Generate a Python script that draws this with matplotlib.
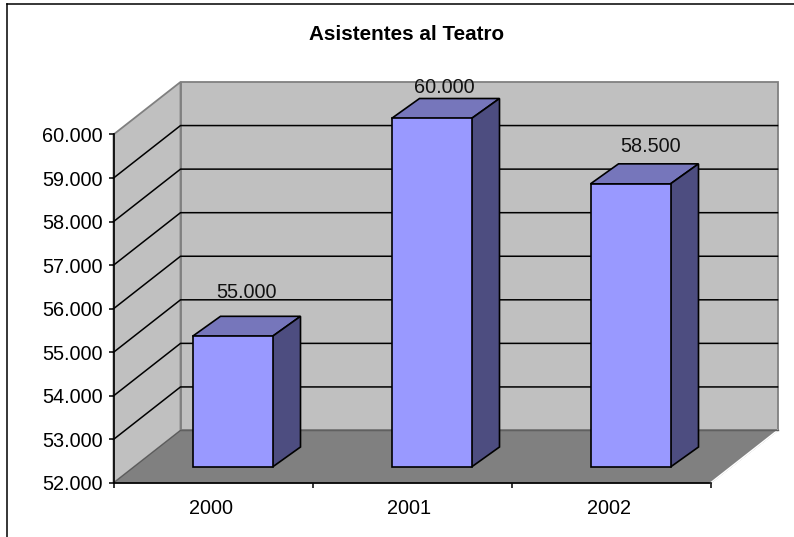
import matplotlib
matplotlib.use('Agg')
import matplotlib.pyplot as plt
from matplotlib.lines import Line2D
from matplotlib.patches import Polygon
from matplotlib.ticker import FixedLocator

years = ['2000', '2001', '2002']
asistentes = [55000, 60000, 58500]
y_ticks = [52000, 53000, 54000, 55000, 56000, 57000, 58000, 59000, 60000]
title = 'Asistentes al Teatro'

W, H = 794, 537
plt.rcParams['font.family'] = ['Liberation Sans', 'DejaVu Sans']

fig = plt.figure(figsize=(W / 100, H / 100), dpi=100)
fig.patch.set_facecolor('white')

# axes box in pixels of the picture
left, right, top, bottom = 113.5, 710.5, 134.5, 483
ax = fig.add_axes([left / W, 1 - bottom / H, (right - left) / W, (bottom - top) / H])
ax.set_xlim(0, len(years))
ax.set_ylim(y_ticks[0], y_ticks[-1])
ax.patch.set_visible(False)

# pixel sizes -> data units
px_x = len(years) / (right - left)
px_y = (y_ticks[-1] - y_ticks[0]) / (bottom - top)
wall_dx, wall_dy = 67 * px_x, 52.5 * px_y
bar_dx, bar_dy = 28 * px_x, 20 * px_y
shift_x, shift_y = 19.5 * px_x, 16 * px_y
bar_w = 80 * px_x

x0, x1 = 0, len(years)
y0, y1 = y_ticks[0], y_ticks[-1]
wall_col, floor_col, edge_grey = '#c0c0c0', '#808080', '#808080'

# back wall and side wall
ax.add_patch(Polygon([(x0 + wall_dx, y0 + wall_dy), (x1 + wall_dx, y0 + wall_dy),
                      (x1 + wall_dx, y1 + wall_dy), (x0 + wall_dx, y1 + wall_dy)],
                     fc=wall_col, ec=edge_grey, lw=1.3, clip_on=False, zorder=1))
ax.add_patch(Polygon([(x0, y0), (x0 + wall_dx, y0 + wall_dy),
                      (x0 + wall_dx, y1 + wall_dy), (x0, y1)],
                     fc=wall_col, ec=edge_grey, lw=1.3, clip_on=False, zorder=1))

# gridlines, back wall plus the diagonal on the side wall (top edge stays grey)
for v in y_ticks[1:-1]:
    ax.plot([x0, x0 + wall_dx, x1 + wall_dx], [v, v + wall_dy, v + wall_dy],
            color='black', lw=1.1, clip_on=False, zorder=2)

# floor
ax.add_patch(Polygon([(x0, y0), (x1, y0), (x1 + wall_dx, y0 + wall_dy), (x0 + wall_dx, y0 + wall_dy)],
                     fc=floor_col, ec='#5a5a5a', lw=0.8, clip_on=False, zorder=3))
ax.plot([x1, x1 + wall_dx], [y0, y0 + wall_dy], color='white', lw=1.2, clip_on=False, zorder=3.5)
ax.plot([x0 + wall_dx, x1 + wall_dx], [y0 + wall_dy, y0 + wall_dy], color='#606060', lw=1, clip_on=False, zorder=3.5)

# bars: front from ax.bar, top and side added as polygons
positions = [i + 0.5 + shift_x for i in range(len(years))]
base = y0 + shift_y
heights = [v - y0 for v in asistentes]
bars = ax.bar(positions, heights, bar_w, bottom=base, color='#9999ff', edgecolor='black', lw=1.2,
              clip_on=False, zorder=6)
for b in bars:
    xa, xb = b.get_x(), b.get_x() + b.get_width()
    ya, yb = b.get_y(), b.get_y() + b.get_height()
    ax.add_patch(Polygon([(xa, yb), (xb, yb), (xb + bar_dx, yb + bar_dy), (xa + bar_dx, yb + bar_dy)],
                         fc='#7676bb', ec='black', lw=1.2, clip_on=False, zorder=5))
    ax.add_patch(Polygon([(xb, ya), (xb + bar_dx, ya + bar_dy), (xb + bar_dx, yb + bar_dy), (xb, yb)],
                         fc='#4d4d80', ec='black', lw=1.2, clip_on=False, zorder=5))

# value labels, offsets in points from the back of each bar's top
label_offsets = [(-10, 10), (-10.8, 1), (-5.9, 5.6)]
for b, v, off in zip(bars, asistentes, label_offsets):
    ax.annotate(f'{v:,}'.replace(',', '.'),
                (b.get_x() + b.get_width() / 2 + bar_dx, b.get_y() + b.get_height() + bar_dy),
                xytext=off, textcoords='offset points', ha='center', va='bottom',
                fontsize=14.3, color='#111111', annotation_clip=False, zorder=8)

# axes
for s in ['top', 'right']:
    ax.spines[s].set_visible(False)
for s in ['left', 'bottom']:
    ax.spines[s].set_linewidth(1.2)
    ax.spines[s].set_zorder(4)
ax.set_yticks(y_ticks)
ax.set_yticklabels([f'{v:,}'.replace(',', '.') for v in y_ticks])
ax.set_xticks([i + 0.5 - 2.5 * px_x for i in range(len(years))])
ax.set_xticklabels(years)
ax.xaxis.set_minor_locator(FixedLocator(range(len(years) + 1)))
ax.tick_params(axis='x', which='major', length=0, pad=11.5, labelsize=14.3)
ax.tick_params(axis='x', which='minor', length=3.5, width=1.1, direction='out')
ax.tick_params(axis='y', length=3.5, width=1.1, direction='out', pad=4, labelsize=14.3)

fig.text(407 / W, 1 - 35 / H, title, fontsize=14.9, fontweight='bold', ha='center', va='center')

# chart frame, only top and left are inside the picture
fig.add_artist(Line2D([7 / W, 7 / W], [0, 1 - 4 / H], color='black', lw=1.1))
fig.add_artist(Line2D([7 / W, 1], [1 - 4 / H, 1 - 4 / H], color='black', lw=1.1))

fig.savefig('out.png', dpi=100)
